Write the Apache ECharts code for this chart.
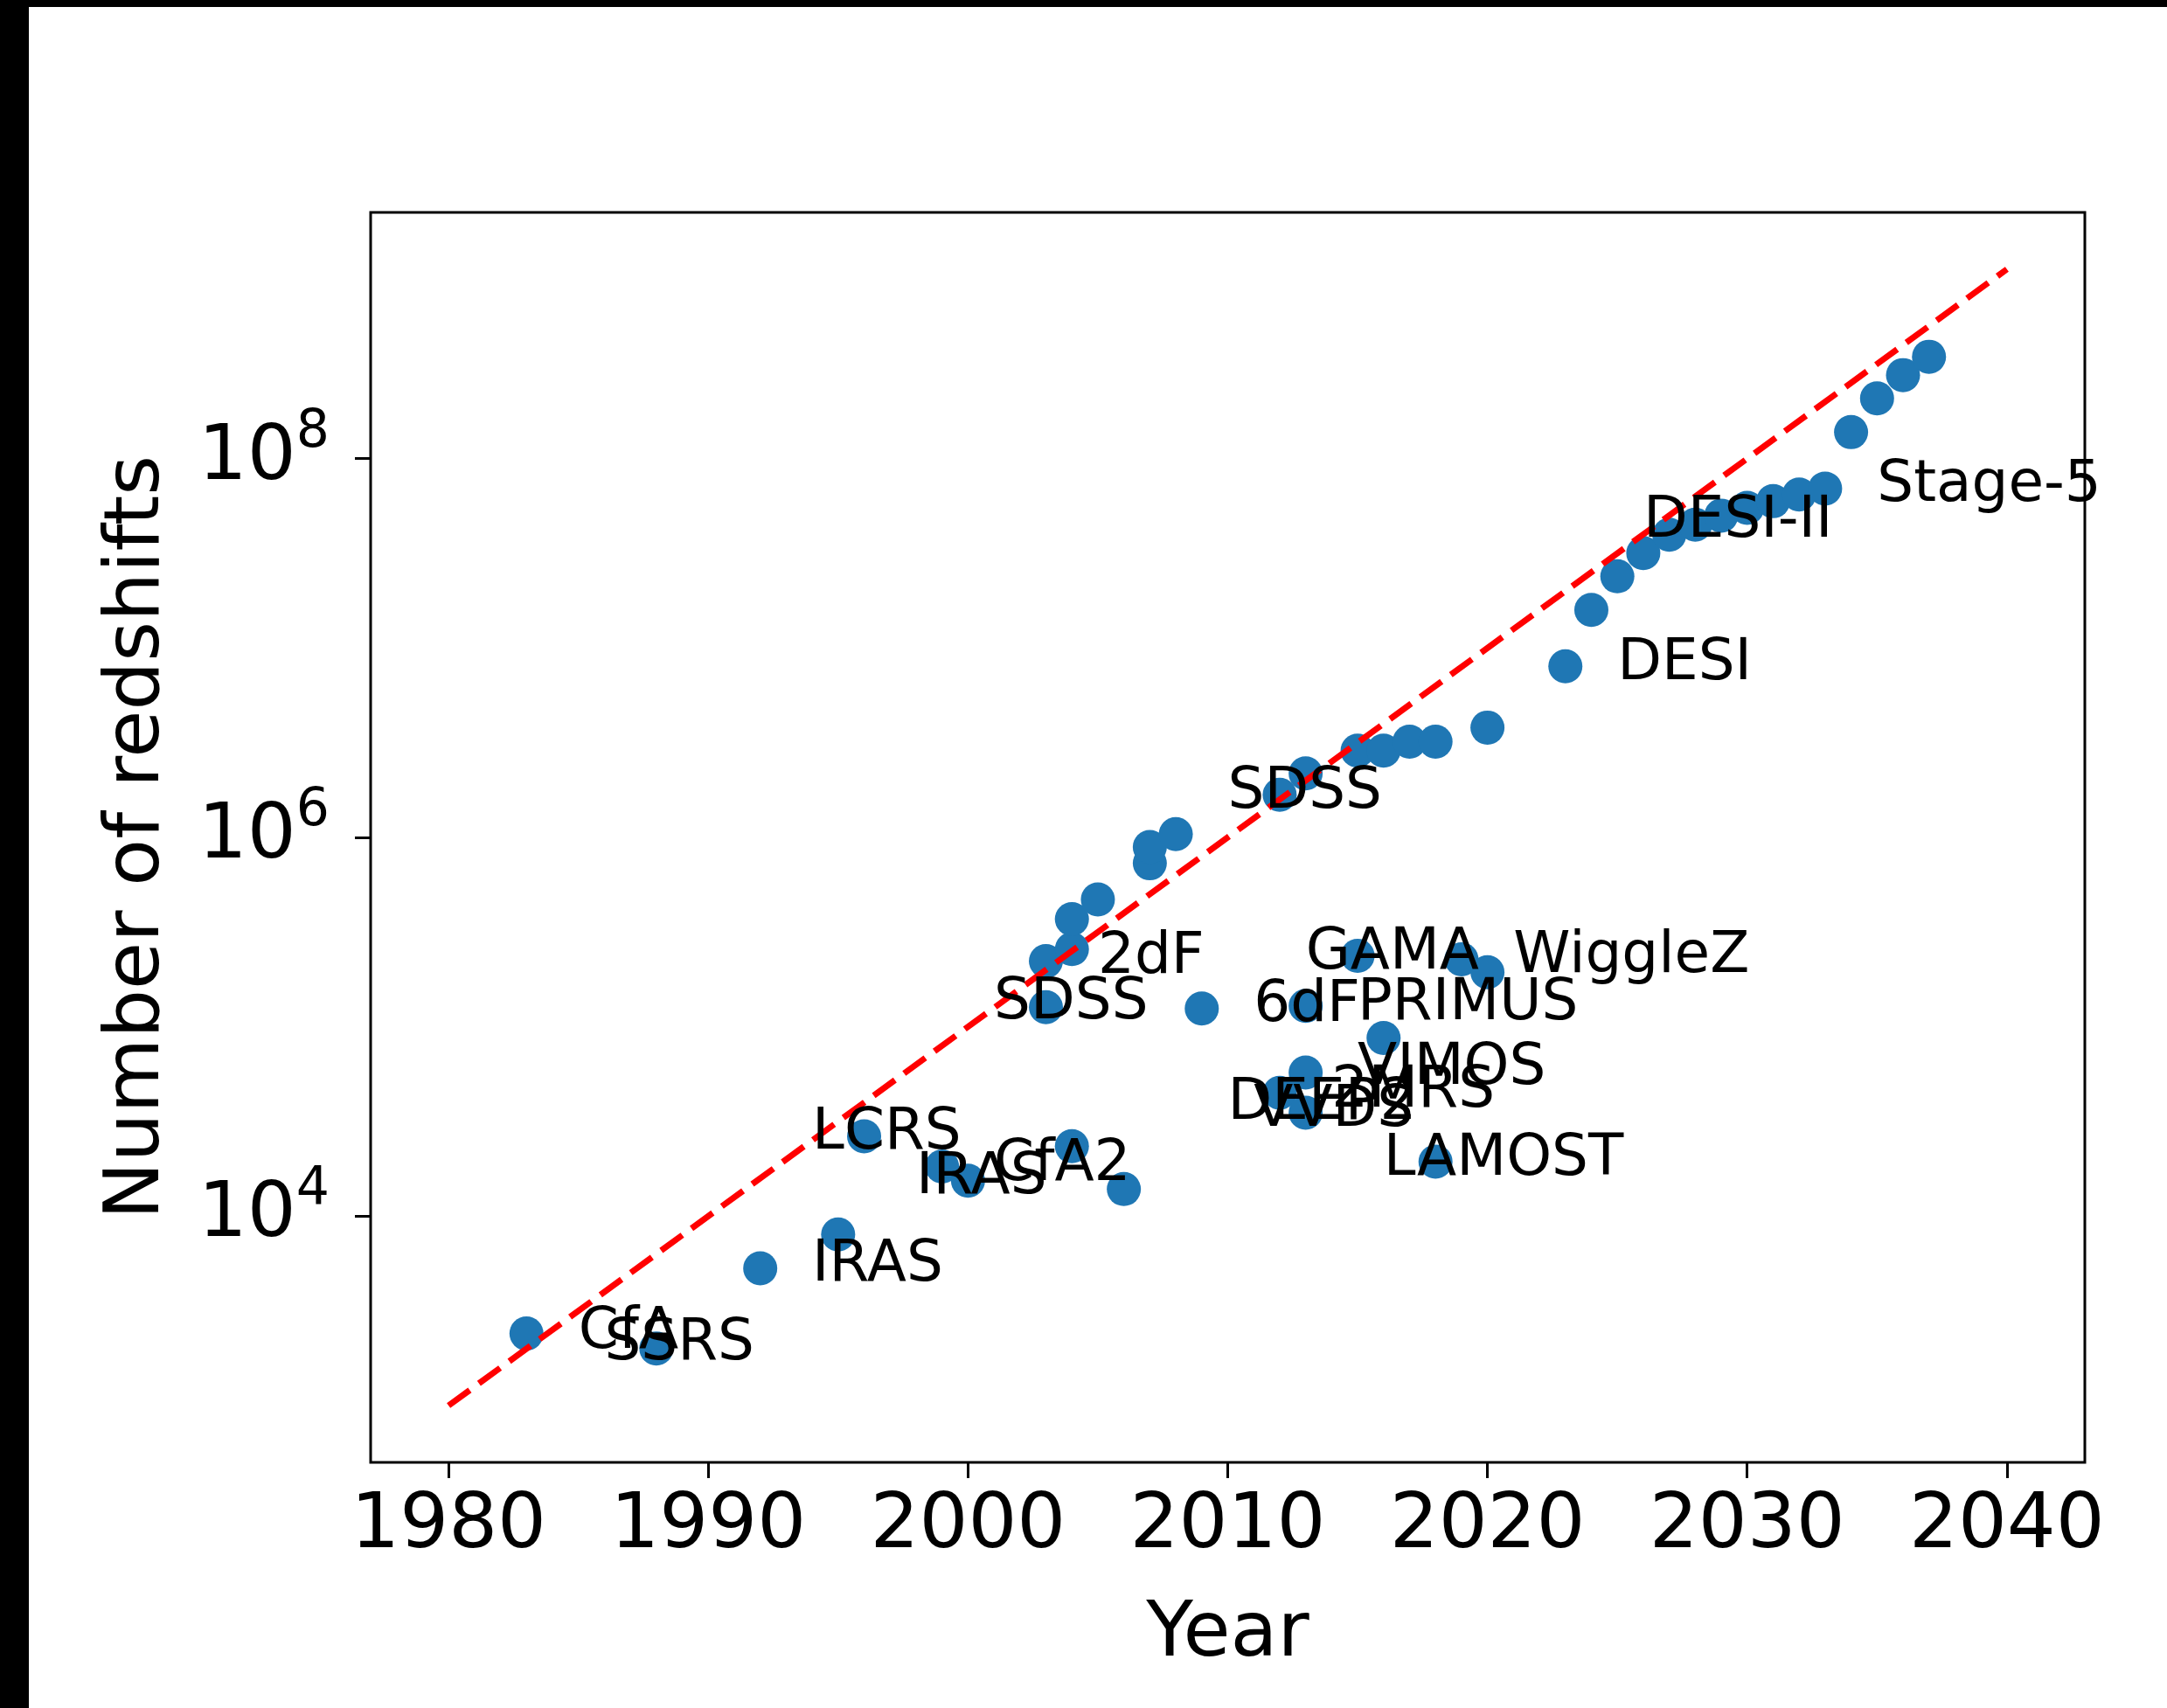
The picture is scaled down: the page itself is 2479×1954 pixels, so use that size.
<!DOCTYPE html>
<html>
<head>
<meta charset="utf-8">
<script src="https://cdn.jsdelivr.net/npm/echarts@6/dist/echarts.min.js"></script>
<style>
  html, body { margin: 0; padding: 0; background: #000; width: 2479px; height: 1954px; overflow: hidden; }
  #chart { position: absolute; left: 33px; top: 8px; width: 2446px; height: 1946px; background: #fff; }
</style>
</head>
<body>
<div id="chart"></div>
<script>
// Redshift surveys: year of completion and number of measured redshifts
const surveyYears = [
  1983, 1988, 1992, 1995, 1996, 1999, 2000,
  2003, 2003, 2004, 2004, 2004, 2005, 2006, 2007, 2007, 2008, 2009,
  2012, 2012, 2013, 2013, 2013, 2013, 2015, 2015, 2016, 2016,
  2017, 2018, 2018, 2019, 2020, 2020,
  2023, 2024, 2025, 2026, 2027, 2028, 2029, 2030, 2031, 2032, 2033,
  2034, 2035, 2036, 2037
];
const surveyCounts = [
  2400, 2000, 5300, 8000, 26400, 18300, 15400,
  127000, 222000, 23400, 257000, 370000, 470000, 13900, 730000, 890000, 1040000, 125000,
  1680000, 44800, 2180000, 129000, 57300, 35200, 2870000, 237000, 2870000, 87300,
  3200000, 3200000, 19400, 227000, 3800000, 194000,
  8000000, 15900000, 23900000, 31700000, 39600000, 44800000, 50000000, 55000000, 59600000, 64600000, 69500000,
  138000000, 208000000, 276000000, 345000000
];

// Survey names written next to the points (text starts two years to the right)
const labelNames = [
  'CfA', 'SSRS', 'IRAS', 'LCRS', 'IRAS', 'CfA2', 'SDSS', '2dF', '6dF', 'SDSS',
  'GAMA', 'PRIMUS', 'WiggleZ', 'VIMOS', '2MRS', 'DEEP2', 'VVDS', 'LAMOST',
  'DESI', 'DESI-II', 'Stage-5'
];
const labelYears = [
  1983, 1984, 1992, 1992, 1996, 1999, 1999, 2003, 2009, 2008,
  2011, 2013, 2019, 2013, 2012, 2008, 2009, 2014,
  2023, 2024, 2033
];
const labelCounts = [
  2430, 2100, 5500, 27400, 15800, 18600, 133000, 230000, 129000, 1720000,
  244000, 132000, 233000, 59800, 45600, 39000, 36100, 19900,
  8200000, 46300000, 72000000
];

// Exponential growth reference: a factor of ten every ten years
const trendYears = [1980, 2040];
const trendCounts = [1e3, 1e9];

// Axis ticks
const yearTicks = [1980, 1990, 2000, 2010, 2020, 2030, 2040];
const countTicks = [1e4, 1e6, 1e8];

const LABEL_SHIFT_YEARS = 2;
const FONT = 'DejaVu Sans';

const chart = echarts.init(document.getElementById('chart'), null, { renderer: 'canvas' });

chart.setOption({
  animation: false,
  backgroundColor: '#fff',
  textStyle: { fontFamily: FONT, color: '#000' },
  grid: {
    left: 391, top: 235, right: 94, bottom: 281,
    show: true, borderColor: '#000', borderWidth: 3, backgroundColor: 'transparent'
  },
  xAxis: {
    type: 'value',
    min: 1977, max: 2043,
    name: 'Year',
    nameLocation: 'middle',
    nameGap: 154,
    nameTextStyle: { fontFamily: FONT, fontSize: 88, color: '#000' },
    axisLine: { show: false },
    splitLine: { show: false },
    axisTick: { show: true, length: 18, lineStyle: { color: '#000', width: 3 }, customValues: yearTicks },
    axisLabel: {
      show: true, margin: 30, fontFamily: FONT, fontSize: 88, color: '#000',
      customValues: yearTicks, formatter: v => String(v)
    }
  },
  yAxis: {
    type: 'log',
    logBase: 10,
    min: Math.pow(10, 2.7),
    max: Math.pow(10, 9.3),
    name: 'Number of redshifts',
    nameLocation: 'middle',
    nameGap: 222,
    nameTextStyle: { fontFamily: FONT, fontSize: 88, color: '#000' },
    axisLine: { show: false },
    splitLine: { show: false },
    minorTick: { show: false },
    axisTick: { show: true, length: 18, lineStyle: { color: '#000', width: 3 }, customValues: countTicks },
    axisLabel: {
      show: true, margin: 47, color: '#000',
      customValues: countTicks,
      formatter: v => '{b|10}{s|' + Math.round(Math.log10(v)) + '}',
      rich: {
        b: { fontFamily: FONT, fontSize: 88, lineHeight: 119, color: '#000' },
        s: { fontFamily: FONT, fontSize: 60, verticalAlign: 'top', color: '#000' }
      }
    }
  },
  series: [
    {
      type: 'scatter',
      z: 2,
      silent: true,
      symbol: 'circle',
      symbolSize: 39,
      itemStyle: { color: '#1f77b4', opacity: 1 },
      data: surveyYears.map((y, i) => [y, surveyCounts[i]])
    },
    {
      type: 'line',
      z: 3,
      silent: true,
      showSymbol: false,
      symbol: 'none',
      lineStyle: { color: '#ff0000', width: 7, type: [30, 13] },
      data: trendYears.map((y, i) => [y, trendCounts[i]])
    },
    {
      type: 'scatter',
      z: 4,
      silent: true,
      symbol: 'circle',
      symbolSize: 0,
      itemStyle: { color: '#000000', opacity: 1 },
      label: {
        show: true,
        position: 'right',
        distance: 0,
        padding: [12, 0, 0, 0],
        formatter: p => p.name,
        fontFamily: FONT,
        fontSize: 66,
        color: '#000000',
        opacity: 1,
        textBorderWidth: 0,
        align: 'left',
        verticalAlign: 'middle'
      },
      labelLayout: { hideOverlap: false },
      data: labelNames.map((n, i) => ({ name: n, value: [labelYears[i] + LABEL_SHIFT_YEARS, labelCounts[i]] }))
    }
  ]
});
</script>
</body>
</html>
